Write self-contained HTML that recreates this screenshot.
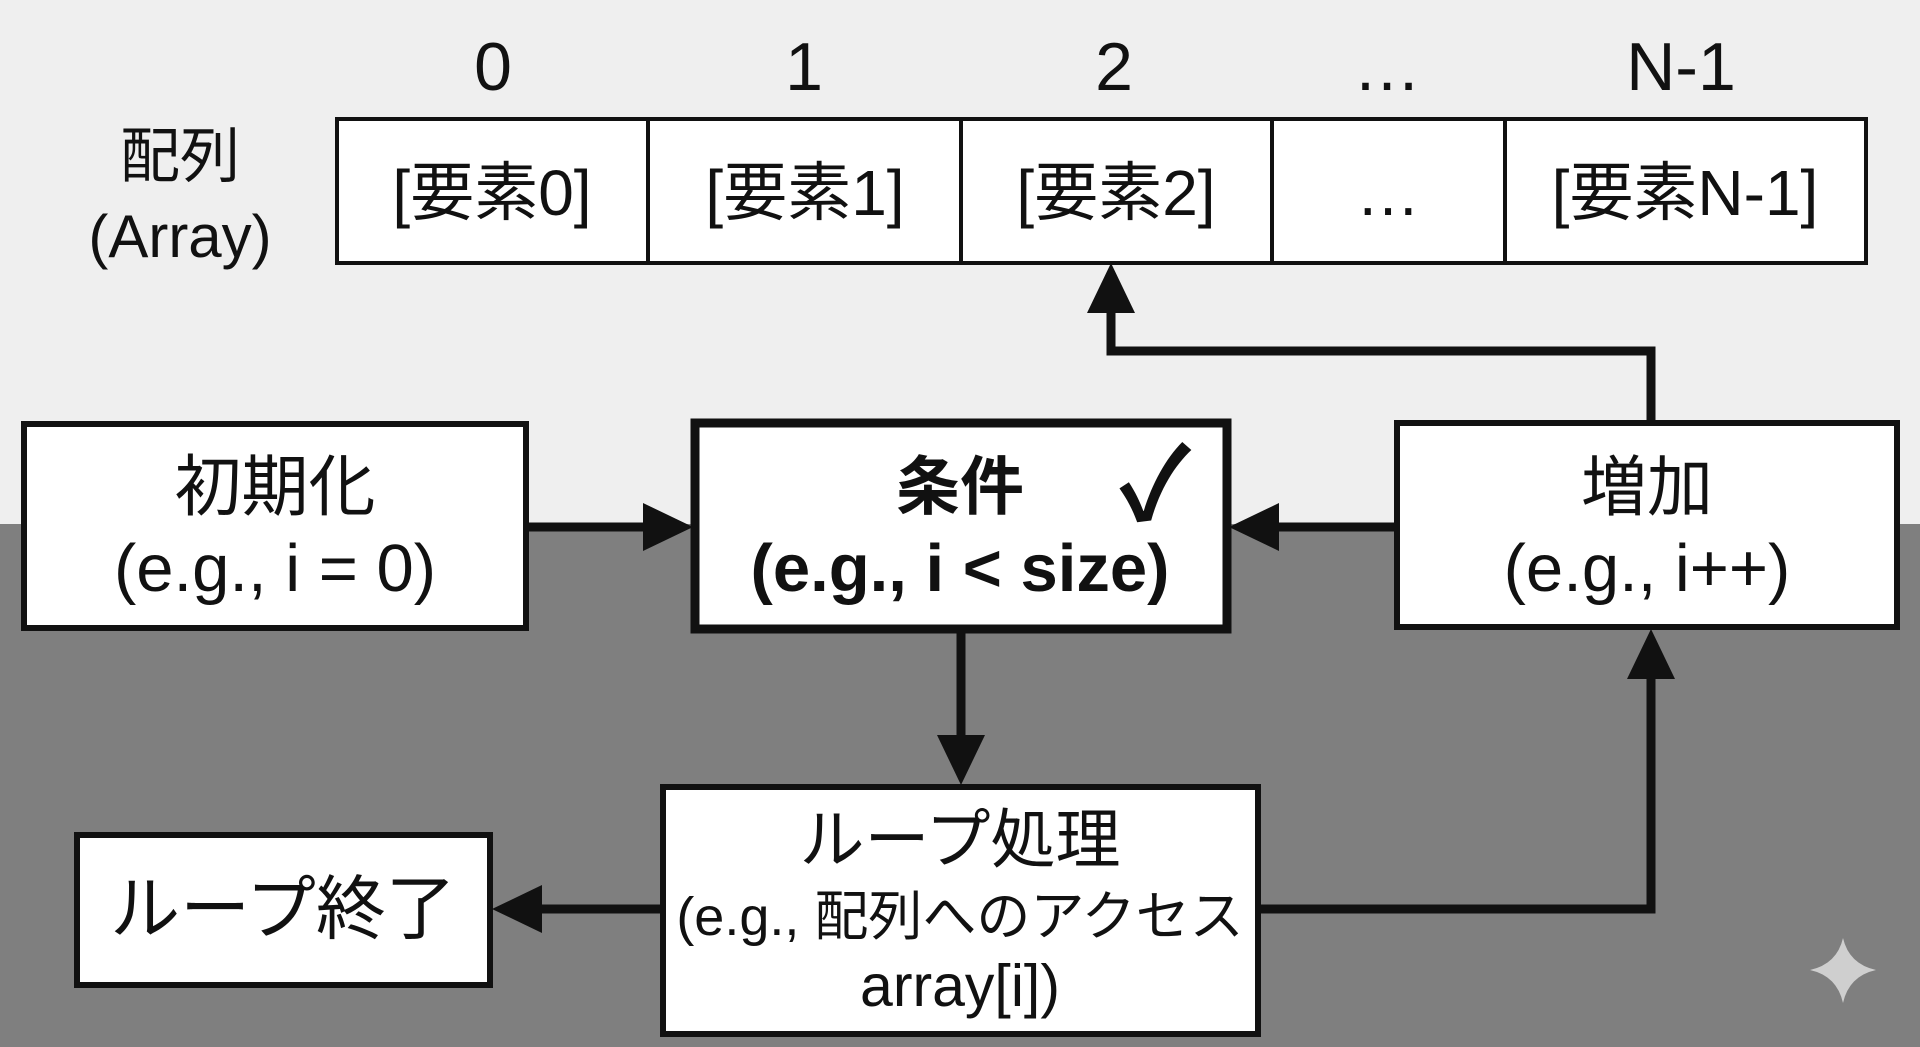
<!DOCTYPE html>
<html><head><meta charset="utf-8"><style>
html,body{margin:0;padding:0;width:1920px;height:1047px;overflow:hidden;background:#7f7f7f}
svg{display:block}
text{font-family:"Liberation Sans","Noto Sans CJK JP",sans-serif;fill:#111}
</style></head><body>
<svg width="1920" height="1047" viewBox="0 0 1920 1047" xmlns="http://www.w3.org/2000/svg">
<rect x="0" y="0" width="1920" height="524" fill="#efefef"/>
<rect x="0" y="524" width="1920" height="523" fill="#7f7f7f"/>
<g font-size="68" text-anchor="middle">
<text x="493" y="90">0</text><text x="804" y="90">1</text><text x="1114" y="90">2</text><text x="1387" y="90">…</text><text x="1681" y="90">N-1</text>
</g>
<g font-size="60" text-anchor="middle">
<text x="180" y="177">配列</text><text x="180" y="257">(Array)</text>
</g>
<rect x="337" y="119" width="1529" height="144" fill="#fff" stroke="#111" stroke-width="4"/>
<g stroke="#111" stroke-width="4"><line x1="648" y1="119" x2="648" y2="263"/><line x1="961" y1="119" x2="961" y2="263"/><line x1="1272" y1="119" x2="1272" y2="263"/><line x1="1505" y1="119" x2="1505" y2="263"/></g>
<g font-size="64" text-anchor="middle">
<text x="492" y="215">[要素0]</text><text x="805" y="215">[要素1]</text><text x="1116" y="215">[要素2]</text><text x="1388" y="215">…</text><text x="1685" y="215">[要素N-1]</text>
</g>
<g stroke="#111" stroke-width="9" fill="none">
<path d="M527 527 H650"/>
<path d="M1395 527 H1270"/>
<path d="M961 632 V745"/>
<path d="M661 909 H535"/>
<path d="M1260 909 H1651 V670"/>
<path d="M1651 421 V351 H1111 V305"/>
</g>
<g fill="#111">
<polygon points="693,527 643,503 643,551"/>
<polygon points="1229,527 1279,503 1279,551"/>
<polygon points="961,785 937,735 985,735"/>
<polygon points="492,909 542,885 542,933"/>
<polygon points="1651,629 1627,679 1675,679"/>
<polygon points="1111,263 1087,313 1135,313"/>
</g>
<rect x="24" y="424" width="502" height="204" fill="#fff" stroke="#111" stroke-width="6"/>
<text x="275" y="510" font-size="67" text-anchor="middle">初期化</text>
<text x="275" y="591" font-size="67" text-anchor="middle">(e.g., i = 0)</text>
<rect x="695" y="423" width="532" height="206" fill="#fff" stroke="#111" stroke-width="9"/>
<text x="960" y="509" font-size="64" font-weight="bold" text-anchor="middle">条件</text>
<text x="960" y="591" font-size="67" font-weight="bold" text-anchor="middle">(e.g., i &lt; size)</text>
<text x="1155" y="520" font-size="100" font-family="DejaVu Sans" font-weight="bold" text-anchor="middle">✓</text>
<rect x="1397" y="423" width="500" height="204" fill="#fff" stroke="#111" stroke-width="6"/>
<text x="1647" y="510" font-size="66" text-anchor="middle">増加</text>
<text x="1647" y="591" font-size="67" text-anchor="middle">(e.g., i++)</text>
<rect x="663" y="787" width="595" height="247" fill="#fff" stroke="#111" stroke-width="6"/>
<text x="960" y="862" font-size="65" text-anchor="middle">ループ処理</text>
<text x="960" y="935" font-size="54" text-anchor="middle">(e.g., 配列へのアクセス</text>
<text x="960" y="1006" font-size="59" text-anchor="middle">array[i])</text>
<rect x="77" y="835" width="413" height="150" fill="#fff" stroke="#111" stroke-width="6"/>
<text x="283" y="933" font-size="70" text-anchor="middle">ループ終了</text>
<path d="M1843 938 Q1849 964 1876 970 Q1849 976 1843 1003 Q1837 976 1810 970 Q1837 964 1843 938 Z" fill="#cfcfcf"/>
</svg>
</body></html>
